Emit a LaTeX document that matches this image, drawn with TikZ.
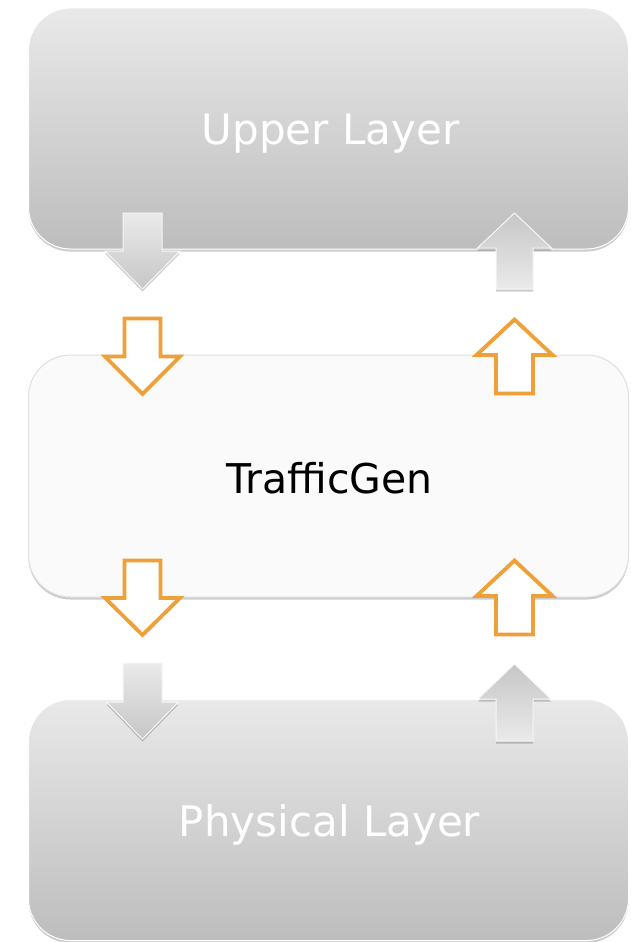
\documentclass[tikz,border=0pt]{standalone}
\usepackage{fontspec}
\setmainfont{DejaVu Sans}
\usetikzlibrary{shadows}
\definecolor{orangeA}{RGB}{240,160,56}
\definecolor{boxtop}{RGB}{233,233,233}
\definecolor{boxbot}{RGB}{189,189,189}
\definecolor{tgfill}{RGB}{250,250,250}
\definecolor{tgline}{RGB}{224,224,224}
\definecolor{arrlight}{RGB}{234,234,234}
\definecolor{arrdark}{RGB}{198,198,198}
\newcommand\blockarr[7]{\path[#1] ({#2-#6},#3) -- ({#2+#6},#3) -- ({#2+#6},#4) -- ({#2+#7},#4) -- (#2,#5) -- ({#2-#7},#4) -- ({#2-#6},#4) -- cycle;}
\tikzset{
  softshadow/.style={drop shadow={shadow xshift=0pt,shadow yshift=-2.5pt,opacity=0.2,fill=black}},
  layerbox/.style={rectangle, rounded corners=42pt, minimum width=600pt, minimum height=241pt,
    top color=boxtop, bottom color=boxbot, draw=white, line width=1pt, softshadow, inner sep=0pt},
  tgbox/.style={rectangle, rounded corners=42pt, minimum width=600pt, minimum height=242pt,
    fill=tgfill, draw=tgline, line width=1pt, softshadow, inner sep=0pt},
  layertext/.style={text=white, font=\fontsize{42pt}{50pt}\selectfont, inner sep=0pt},
  tgtext/.style={text=black, font=\fontsize{41pt}{50pt}\selectfont, inner sep=0pt},
  grayarrdown/.style={top color=arrlight, bottom color=arrdark, draw=white!94!gray, line width=1pt, softshadow},
  grayarrup/.style={top color=arrdark, bottom color=arrlight, draw=white!94!gray, line width=1pt, softshadow},
  orarr/.style={fill=white, draw=orangeA, line width=3.8pt, line join=miter}
}
\begin{document}
\begin{tikzpicture}[x=1pt,y=-1pt]
\path[use as bounding box, fill=white] (0,0) rectangle (631,942);
% boxes
\node[layerbox] (upper) at (328.5,128.5) {};
\node[layertext] (upperlbl) at ([xshift=2pt,yshift=-5pt]upper.center) {Upper Layer};
\node[tgbox] (tg) at (328.5,476) {};
\node[tgtext] (tglbl) at ([xshift=1pt,yshift=-2pt]tg.center) {TrafficGen};
\node[layerbox] (phys) at (328.5,820) {};
\node[layertext] (physlbl) at ([xshift=1pt,yshift=-5pt]phys.center) {Physical Layer};
% gray arrows at upper layer
\blockarr{grayarrdown}{142.5}{213}{251}{289}{19.5}{37.5}
\blockarr{grayarrup}{514.5}{289}{248}{213}{18.5}{37}
% orange arrows at TrafficGen
\blockarr{orarr}{142.5}{318.5}{356.5}{394}{18}{37.5}
\blockarr{orarr}{514.5}{393.5}{355}{319.5}{18.5}{38}
\blockarr{orarr}{142.5}{560.5}{598}{635}{18}{37.5}
\blockarr{orarr}{514.5}{634.5}{596}{560.5}{18.5}{38}
% gray arrows at physical layer
\blockarr{grayarrdown}{142.5}{663}{702}{739}{19.5}{36}
\blockarr{grayarrup}{514.5}{741}{699}{664}{18.5}{36.5}
\end{tikzpicture}
\end{document}
